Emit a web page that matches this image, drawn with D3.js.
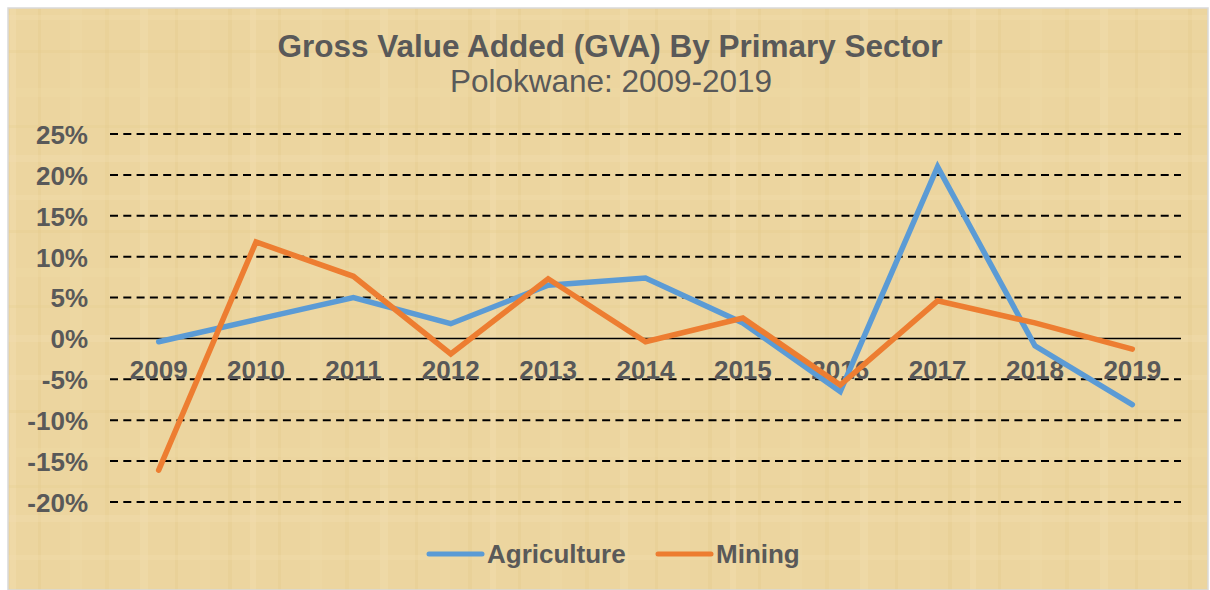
<!DOCTYPE html>
<html><head><meta charset="utf-8">
<script src="https://cdn.jsdelivr.net/npm/d3@7"></script>
<style>body{margin:0;background:#fff}svg{display:block}</style>
</head><body>
<svg id="chart" width="1210" height="590"></svg>
<script>
const years = ["2009","2010","2011","2012","2013","2014","2015","2016","2017","2018","2019"];
const agriculture = [-0.4, 2.3, 5.0, 1.8, 6.5, 7.4, 1.9, -6.5, 21.0, -0.9, -8.1];
const mining = [-16.1, 11.8, 7.6, -1.9, 7.3, -0.4, 2.5, -5.7, 4.6, 1.9, -1.3];
const yTicks = [25, 20, 15, 10, 5, 0, -5, -10, -15, -20];
const seriesNames = ["Agriculture", "Mining"];
const seriesColors = ["#5b9bd5", "#ed7d31"];

const svg = d3.select("#chart");
const W = 1210, H = 590;
const font = "'Liberation Sans', Arial, sans-serif";
const textCol = "#595959";

// background parchment
const defs = svg.append("defs");
const pat = defs.append("pattern").attr("id","tex").attr("patternUnits","userSpaceOnUse")
  .attr("width", 240).attr("height", 180);
pat.append("rect").attr("width",240).attr("height",180).attr("fill","#ecd59f");
const stripes = [[10,6,"#f3dfb0",0.35],[38,3,"#e2c887",0.3],[70,12,"#f1dcaa",0.3],[105,4,"#e6cc8c",0.3],[140,8,"#f4e2b8",0.3],[175,3,"#e0c383",0.25],[200,10,"#efd9a6",0.3],[228,4,"#e4c98a",0.3]];
stripes.forEach(s => pat.append("rect").attr("x",s[0]).attr("y",0).attr("width",s[1]).attr("height",180).attr("fill",s[2]).attr("opacity",s[3]));
const hstripes = [[15,5,"#f2deb0",0.3],[50,3,"#e3c886",0.25],[88,9,"#f0dba8",0.3],[125,3,"#e5ca8b",0.25],[155,7,"#f3e0b4",0.3]];
hstripes.forEach(s => pat.append("rect").attr("x",0).attr("y",s[0]).attr("width",240).attr("height",s[1]).attr("fill",s[2]).attr("opacity",s[3]));

svg.append("rect").attr("x",0).attr("y",0).attr("width",W).attr("height",H).attr("fill","#ffffff");
svg.append("rect").attr("x",8).attr("y",8).attr("width",W-10).attr("height",H-8).attr("fill","url(#tex)")
  .attr("stroke","#d9d9d9").attr("stroke-width",1.5);

// titles
svg.append("text").attr("x",610).attr("y",57).attr("text-anchor","middle")
  .attr("font-family",font).attr("font-weight","bold").attr("font-size",31.5).attr("fill",textCol)
  .text("Gross Value Added (GVA) By Primary Sector");
svg.append("text").attr("x",611).attr("y",92).attr("text-anchor","middle")
  .attr("font-family",font).attr("font-size",31.5).attr("fill",textCol)
  .text("Polokwane: 2009-2019");

const x = d3.scaleBand().domain(years).range([110, 1181]);
const y = d3.scaleLinear().domain([-20, 25]).range([502, 134]);

// grid lines
const g = svg.append("g");
g.selectAll("line.grid").data(yTicks.filter(t => t !== 0)).join("line")
  .attr("x1",110).attr("x2",1181).attr("y1",d=>y(d)).attr("y2",d=>y(d))
  .attr("stroke","#000").attr("stroke-width",2).attr("stroke-dasharray","8,5.3");
g.append("line").attr("x1",110).attr("x2",1181).attr("y1",y(0)).attr("y2",y(0))
  .attr("stroke","#000").attr("stroke-width",1.5);

// y axis
const yAxis = d3.axisLeft(y).tickValues(yTicks).tickFormat(d => d + "%").tickSize(0).tickPadding(0);
const ya = svg.append("g").attr("transform","translate(88,0)").call(yAxis);
ya.select(".domain").remove();
ya.selectAll("text").attr("font-family",font).attr("font-weight","bold").attr("font-size",26)
  .attr("fill",textCol).attr("dy","0.36em");

// x axis labels
const xAxis = d3.axisBottom(x).tickSize(0).tickPadding(0);
const xa = svg.append("g").attr("transform",`translate(0,${y(0)+31})`).call(xAxis);
xa.select(".domain").remove();
xa.selectAll("text").attr("font-family",font).attr("font-weight","bold").attr("font-size",26)
  .attr("fill",textCol).attr("dy","0.35em");

// lines
const line = d3.line().x((d,i) => x(years[i]) + x.bandwidth()/2).y(d => y(d));
[agriculture, mining].forEach((s, k) => {
  svg.append("path").datum(s).attr("d", line).attr("fill","none")
    .attr("stroke", seriesColors[k]).attr("stroke-width",5.5).attr("stroke-linejoin","miter")
    .attr("stroke-linecap","round");
});

// legend
const legX = [429, 658];
seriesNames.forEach((n, k) => {
  svg.append("line").attr("x1",legX[k]).attr("x2",legX[k]+53).attr("y1",554).attr("y2",554)
    .attr("stroke",seriesColors[k]).attr("stroke-width",5).attr("stroke-linecap","round");
  svg.append("text").attr("x",legX[k]+58).attr("y",563).attr("font-family",font)
    .attr("font-weight","bold").attr("font-size",26).attr("fill",textCol).text(n);
});
</script>
</body></html>
